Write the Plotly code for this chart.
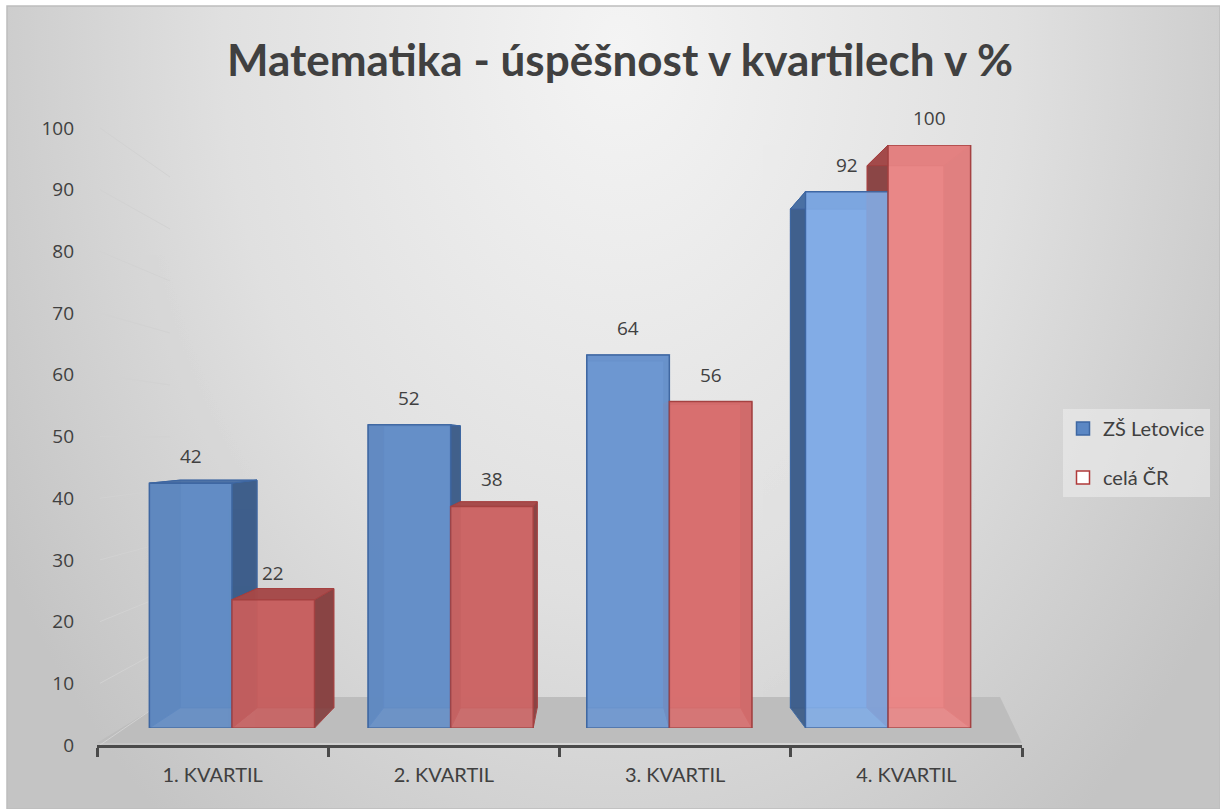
import base64
import plotly.graph_objects as go

# ---------------- data ----------------
CATEGORIES = ["1. KVARTIL", "2. KVARTIL", "3. KVARTIL", "4. KVARTIL"]
SERIES_NAMES = ["ZŠ Letovice", "celá ČR"]
ZS_LETOVICE = [42, 52, 64, 92]
CELA_CR = [22, 38, 56, 100]
Y_TICKS = [0, 10, 20, 30, 40, 50, 60, 70, 80, 90, 100]
TITLE = "Matematika - úspěšnost v kvartilech v %"

# ---------------- styles ----------------
W, H = 1220, 809
TEXT = "#404040"
BLUE_FRONT = ["#628cc5", "#658fc8", "#6d97d1", "#82ace6"]
RED_FRONT = ["#c76161", "#cc6666", "#d86f6f", "#e98787"]
BLUE_EDGE = "#3e67a2"
RED_EDGE = "#a54141"
BLUE_SIDE = "#3f5e88"
RED_SIDE = "#864343"
BLUE_TOP = "#4d72a6"
RED_TOP = "#a54b4b"
GRID = "#d2d2d2"
BARGAP = 0.245
# perspective (vanishing point in bar-axis data units, depth scale)
VX, VY, S = 1.637, 49.4, 0.93


def px(x):
    return x / W


def py(y):
    return 1 - y / H


fig = go.Figure()

series = [
    (SERIES_NAMES[0], ZS_LETOVICE, BLUE_FRONT, BLUE_EDGE, BLUE_SIDE, BLUE_TOP, -1),
    (SERIES_NAMES[1], CELA_CR, RED_FRONT, RED_EDGE, RED_SIDE, RED_TOP, 0),
]
for name, vals, front, edge, side, top, off in series:
    fig.add_trace(go.Bar(
        x=CATEGORIES, y=vals, name=name, xaxis="x3", yaxis="y3",
        marker=dict(color=front, line=dict(color=edge, width=1.5)),
        opacity=0.9, showlegend=False, hoverinfo="x+y+name",
    ))

# legend entries
fig.add_trace(go.Scatter(
    x=[None], y=[None], mode="markers", name=SERIES_NAMES[0], legendgroup="a",
    marker=dict(symbol="square", size=13, color="#5b87c4", line=dict(color="#3e67a2", width=1.5)),
))
fig.add_trace(go.Scatter(
    x=[None], y=[None], mode="markers", name=SERIES_NAMES[1], legendgroup="b",
    marker=dict(symbol="square", size=13, color="#ffffff", line=dict(color="#b03a3a", width=1.5)),
))

# ---------------- 3D box faces (derived from the data) ----------------
w = (1 - BARGAP) / 2
shapes = []


def back(x, y):
    return VX + S * (x - VX), VY + S * (y - VY)


def poly(pts):
    return "M " + " L ".join(f"{a:.4f},{b:.4f}" for a, b in pts) + " Z"


for name, vals, front, edge, side, top, off in series:
    for i, v in enumerate(vals):
        xl = i - w if off < 0 else i
        xr = xl + w
        F = {"l0": (xl, 0), "r0": (xr, 0), "rv": (xr, v), "lv": (xl, v)}
        B = {k: back(*p) for k, p in F.items()}
        faces = [
            ([B["l0"], B["r0"], B["rv"], B["lv"]], front[i]),
            ([F["l0"], F["lv"], B["lv"], B["l0"]], side),
            ([F["r0"], F["rv"], B["rv"], B["r0"]], side),
            ([F["lv"], F["rv"], B["rv"], B["lv"]], top),
        ]
        for pts, col in faces:
            shapes.append(dict(
                type="path", xref="x3", yref="y3", path=poly(pts),
                fillcolor=col, opacity=0.95, line=dict(color=edge, width=1),
                layer="below",
            ))

# floor and side-wall grid (decoration)
shapes.append(dict(
    type="path", xref="paper", yref="paper", layer="below",
    path=poly([(px(97), py(743)), (px(172), py(697)), (px(1000), py(697)), (px(1022), py(743))]),
    fillcolor="#bdbdbd", line=dict(width=0),
))
for t in Y_TICKS:
    shapes.append(dict(
        type="line", xref="paper", yref="paper", layer="below",
        x0=px(100), y0=py(745 - t * 6.17), x1=px(170), y1=py(697 - t * 5.2),
        line=dict(color=GRID, width=1),
    ))
# chart frame
shapes.append(dict(
    type="rect", xref="paper", yref="paper", layer="above",
    x0=px(7), y0=0, x1=1, y1=py(6), line=dict(color="#bdbdbd", width=1.5),
))

# value labels
annotations = []
for name, vals, front, edge, side, top, off in series:
    for i, v in enumerate(vals):
        annotations.append(dict(
            x=i + (w / 2) * (-1 if off < 0 else 1), y=v, xref="x3", yref="y3",
            text=str(v), showarrow=False, yanchor="bottom", yshift=12,
            font=dict(family="Open Sans", size=19, color=TEXT),
        ))

# background gradient
svg = (
    '<svg xmlns="http://www.w3.org/2000/svg" width="1213" height="803">'
    '<defs><radialGradient id="g" gradientUnits="userSpaceOnUse" cx="0" cy="0" r="1" '
    'gradientTransform="translate(613,40) scale(720,1000)">'
    '<stop offset="0" stop-color="#f4f4f4"/><stop offset="0.55" stop-color="#e0e0e0"/>'
    '<stop offset="1" stop-color="#c4c4c4"/></radialGradient></defs>'
    '<rect width="1213" height="803" fill="url(#g)"/></svg>'
)
src = "data:image/svg+xml;base64," + base64.b64encode(svg.encode()).decode()

fig.update_layout(
    width=W, height=H, autosize=False,
    margin=dict(l=0, r=0, t=0, b=0, autoexpand=False),
    paper_bgcolor="#ffffff", plot_bgcolor="rgba(0,0,0,0)",
    barmode="group", bargap=BARGAP, bargroupgap=0,
    title=dict(text=f"<b>{TITLE}</b>", x=px(620), xanchor="center", y=py(61), yanchor="middle",
               font=dict(family="Lato", size=44, color=TEXT)),
    images=[dict(source=src, xref="paper", yref="paper", x=px(7), y=py(6),
                 sizex=1 - px(7), sizey=py(6), xanchor="left", yanchor="top",
                 sizing="stretch", layer="below")],
    shapes=shapes, annotations=annotations,
    legend=dict(x=px(1063), y=py(453), xanchor="left", yanchor="middle",
                bgcolor="rgba(236,236,236,0.6)", font=dict(family="Lato", size=20, color=TEXT),
                tracegroupgap=20, itemwidth=30),
    # label axes
    xaxis=dict(domain=[px(97), px(1022)], range=[-0.5, 3.5], anchor="y", automargin=False,
               tickmode="array", tickvals=list(range(len(CATEGORIES))), ticktext=CATEGORIES,
               ticks="", showgrid=False, zeroline=False, showline=True,
               linecolor="#4a4a4a", linewidth=2.5, ticklabelstandoff=10,
               tickfont=dict(family="Lato", size=20, color=TEXT),
               minor=dict(tick0=-0.5, dtick=1, ticks="outside", ticklen=9,
                          tickwidth=2.5, tickcolor="#4a4a4a", showgrid=False),
               fixedrange=True),
    yaxis=dict(domain=[py(745), py(128)], range=[0, 100], anchor="x", automargin=False,
               tickmode="array", tickvals=Y_TICKS, showgrid=False, zeroline=False,
               showline=False, ticks="", ticklabelstandoff=22,
               tickfont=dict(family="Open Sans", size=19, color=TEXT), fixedrange=True),
    # back wall grid
    xaxis2=dict(domain=[px(170), px(1000)], range=[0, 1], anchor="y2", showgrid=False,
                automargin=False, showticklabels=False, zeroline=False, showline=False,
                ticks="", fixedrange=True),
    yaxis2=dict(domain=[py(697), py(177)], range=[0, 100], anchor="x2", tickvals=Y_TICKS,
                automargin=False, showgrid=True, gridcolor=GRID, gridwidth=1,
                showticklabels=False, zeroline=False, showline=False, ticks="", fixedrange=True),
    # bars
    xaxis3=dict(domain=[px(122.6), px(997.4)], range=[-0.5, 3.5], anchor="y3", type="category",
                categoryorder="array", categoryarray=CATEGORIES, visible=False,
                automargin=False, fixedrange=True),
    yaxis3=dict(domain=[py(728), py(145)], range=[0, 100], anchor="x3", visible=False,
                automargin=False, fixedrange=True),
)

fig.write_html("out.html", config={"displayModeBar": False},
               post_script="document.body.style.margin='0px';")
